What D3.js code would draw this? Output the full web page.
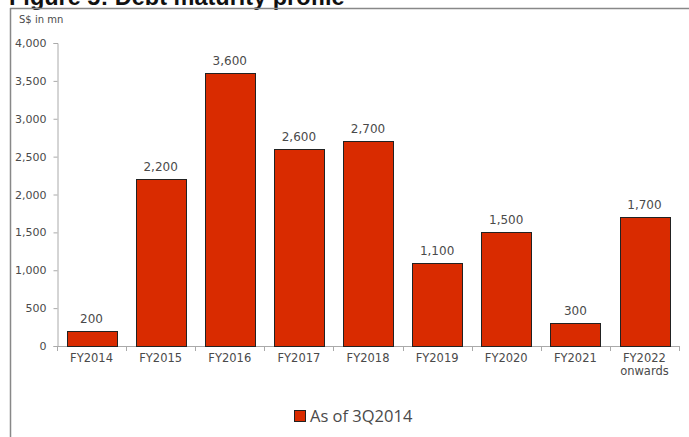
<!DOCTYPE html>
<html>
<head>
<meta charset="utf-8">
<script src="https://cdn.jsdelivr.net/npm/d3@7"></script>
<style>
  body { margin: 0; background: #fff; }
  svg { display: block; font-family: "DejaVu Sans", sans-serif; }
</style>
</head>
<body>
<svg id="chart" width="689" height="437"></svg>
<script>
// chart data
var categories = ["FY2014", "FY2015", "FY2016", "FY2017", "FY2018", "FY2019", "FY2020", "FY2021", "FY2022\nonwards"];
var debtValues = [200, 2200, 3600, 2600, 2700, 1100, 1500, 300, 1700];
var yTicks = [0, 500, 1000, 1500, 2000, 2500, 3000, 3500, 4000];
var seriesName = "As of 3Q2014";

var BAR_FILL = "#d92b00";
var TEXT_COL = "#4a4a4a";

var svg = d3.select("#chart");

// title (cut off at top in the original)
svg.append("text")
    .attr("x", 9)
    .attr("y", 5)
    .attr("font-size", 23.5)
    .attr("font-weight", "bold")
    .attr("font-family", "'Liberation Sans', Arial, sans-serif")
    .attr("fill", "#111")
    .text("Figure 5: Debt maturity profile");

// frame lines
svg.append("line").attr("x1", 10).attr("x2", 689).attr("y1", 8.5).attr("y2", 8.5)
    .attr("stroke", "#888").attr("stroke-width", 1.5);
svg.append("line").attr("x1", 10.5).attr("x2", 10.5).attr("y1", 8).attr("y2", 437)
    .attr("stroke", "#888").attr("stroke-width", 1.5);

var x = d3.scaleBand()
    .domain(categories)
    .range([57, 679])
    .paddingInner(0.28)
    .paddingOuter(0.14);

var y = d3.scaleLinear()
    .domain([0, 4000])
    .range([346, 43]);

// y axis
var yAxis = svg.append("g")
    .attr("transform", "translate(57.5,0)")
    .call(d3.axisLeft(y).tickValues(yTicks).tickSize(4).tickPadding(7).tickFormat(d3.format(",")));
yAxis.select(".domain").attr("stroke", "#aaa");
yAxis.selectAll(".tick line").attr("stroke", "#aaa");
yAxis.selectAll(".tick text").attr("font-size", 11).attr("fill", TEXT_COL)
    .attr("font-family", "DejaVu Sans, sans-serif");

svg.append("text")
    .attr("x", 19)
    .attr("y", 23)
    .attr("font-size", 10)
    .attr("fill", TEXT_COL)
    .text("S$ in mn");

// x axis baseline with ticks at band boundaries
var step = x.step();
var x0 = 57;
var bounds = d3.range(categories.length + 1).map(function(i) { return x0 + i * step; });
svg.append("line")
    .attr("x1", x0).attr("x2", bounds[bounds.length - 1])
    .attr("y1", y(0) + 0.5).attr("y2", y(0) + 0.5)
    .attr("stroke", "#aaa");
svg.selectAll(".xtick")
    .data(bounds)
    .enter()
    .append("line")
    .attr("class", "xtick")
    .attr("x1", function(d) { return Math.round(d) + 0.5; })
    .attr("x2", function(d) { return Math.round(d) + 0.5; })
    .attr("y1", y(0))
    .attr("y2", y(0) + 5)
    .attr("stroke", "#aaa");

// x labels (can have two lines)
var xLabels = svg.selectAll(".xlabel")
    .data(categories)
    .enter()
    .append("text")
    .attr("class", "xlabel")
    .attr("text-anchor", "middle")
    .attr("font-size", 11.5)
    .attr("fill", TEXT_COL)
    .attr("x", function(d) { return x(d) + x.bandwidth() / 2; })
    .attr("y", 362);
xLabels.each(function(d) {
    var lines = d.split("\n");
    var t = d3.select(this);
    lines.forEach(function(l, i) {
        t.append("tspan")
            .attr("x", x(d) + x.bandwidth() / 2)
            .attr("dy", i == 0 ? 0 : 13)
            .text(l);
    });
});

// bars
svg.selectAll(".bar")
    .data(debtValues)
    .enter()
    .append("rect")
    .attr("class", "bar")
    .attr("x", function(d, i) { return Math.round(x(categories[i])) + 0.5; })
    .attr("y", function(d) { return Math.round(y(d)) + 0.5; })
    .attr("width", Math.round(x.bandwidth()))
    .attr("height", function(d) { return Math.round(y(0)) - Math.round(y(d)); })
    .attr("fill", BAR_FILL)
    .attr("stroke", "#222")
    .attr("stroke-width", 1);

// value labels
svg.selectAll(".vlabel")
    .data(debtValues)
    .enter()
    .append("text")
    .attr("class", "vlabel")
    .attr("text-anchor", "middle")
    .attr("font-size", 12)
    .attr("fill", TEXT_COL)
    .attr("x", function(d, i) { return x(categories[i]) + x.bandwidth() / 2; })
    .attr("y", function(d) { return y(d) - 8; })
    .text(function(d) { return d3.format(",")(d); });

// legend
var legend = svg.append("g").attr("transform", "translate(294,410)");
legend.append("rect")
    .attr("x", 0.5).attr("y", 0.5)
    .attr("width", 11).attr("height", 11)
    .attr("fill", BAR_FILL)
    .attr("stroke", "#222");
legend.append("text")
    .attr("x", 16)
    .attr("y", 11.5)
    .attr("font-size", 16.5)
    .attr("font-family", "'Open Sans', 'Liberation Sans', sans-serif")
    .attr("fill", TEXT_COL)
    .text(seriesName);
</script>
</body>
</html>
